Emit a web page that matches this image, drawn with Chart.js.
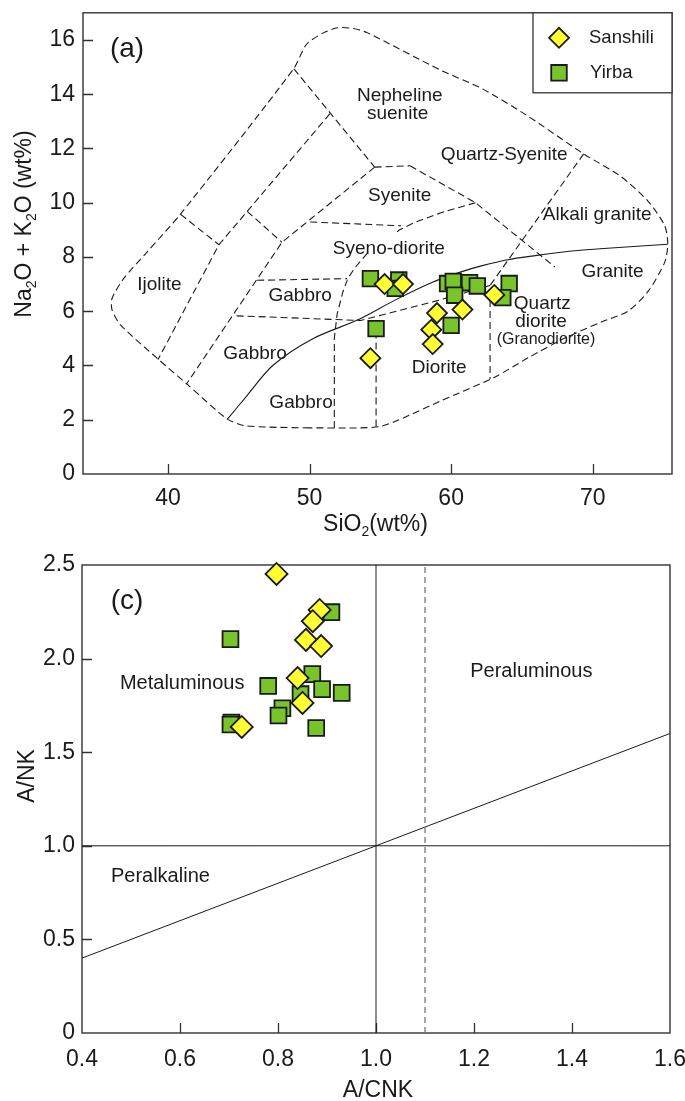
<!DOCTYPE html>
<html>
<head>
<meta charset="utf-8">
<script src="https://cdn.jsdelivr.net/npm/chart.js"></script>
<style>
  html, body { margin: 0; padding: 0; background: #fff; }
  #wrap { position: relative; width: 685px; height: 1101px; }
  #wrap canvas { position: absolute; left: 0; }
</style>
</head>
<body>
<div id="wrap">
  <canvas id="tas" width="685" height="540" style="top:0"></canvas>
  <canvas id="acnk" width="685" height="561" style="top:540px"></canvas>
</div>
<script>
const FONT = '"Liberation Sans", Arial, Helvetica, sans-serif';
const INK = '#1a1a1a';
const YELLOW = '#ffff33';
const GREEN = '#7ac42b';

// ---- (a) TAS diagram ----
const sanshiliTAS = [[55.3,7.0],[56.6,7.0],[59.0,5.93],[60.8,6.06],[58.6,5.32],[58.7,4.79],[54.3,4.27],[63.05,6.6]];
const yirbaTAS = [[54.3,7.2],[56.3,7.15],[56.05,6.84],[59.75,7.02],[60.15,7.1],[61.3,7.05],[61.85,6.93],[60.25,6.59],[64.1,7.02],[63.65,6.5],[60.0,5.48],[54.7,5.36]];
const tasXTicks = [40, 50, 60, 70];
const tasYTicks = [0, 2, 4, 6, 8, 10, 12, 14, 16];

// field boundaries
const tasOuter = [[50,1.7],[46.99,1.73],[45.34,1.79],[44.17,2.03],[41.35,3.31],[39.34,4.22],[36.64,5.5],[36.05,6.05],[36.05,6.47],[36.87,7.2],[38.52,8.18],[40.87,9.57],[48.87,14.93],[49.79,15.84],[50.97,16.26],[52.0,16.45],[53.1,16.42],[54.1,16.26],[59.2,14.9],[62.2,14.2],[65.4,13.2],[69.36,11.8],[71.98,10.97],[73.9,10.06],[75.09,9.15],[75.3,8.48],[75.09,7.81],[73.9,6.72],[72.46,5.99],[70.6,5.6],[68.0,5.0],[65.5,4.3],[63.0,3.55],[59.3,2.7],[56.2,1.97],[55.0,1.75],[53.6,1.7],[50,1.7]];
const tasDashed = [
  [[48.9,14.93],[54.6,11.31]],
  [[54.6,11.31],[57.1,11.36]],
  [[57.1,11.36],[61.72,10.0],[67.33,7.63]],
  [[61.72,10.0],[59.33,9.64],[57.42,9.27],[56.35,9.0],[56.0,8.84]],
  [[50.05,9.29],[56.47,9.15]],
  [[54.6,11.31],[48.05,8.54],[41.3,3.31]],
  [[45.6,9.68],[48.05,8.54]],
  [[51.44,13.28],[43.6,8.45],[39.3,4.22]],
  [[40.9,9.57],[43.6,8.45]],
  [[46.3,7.14],[52.65,7.2]],
  [[44.85,5.83],[53.6,5.66],[59.1,6.4],[62.75,6.95]],
  [[69.36,11.8],[62.75,6.95],[62.75,3.5]],
  [[54.7,5.66],[54.7,1.72]],
  [[51.75,1.7],[51.75,5.0],[51.95,5.9],[52.35,6.7],[52.7,7.2],[53.2,7.6],[53.7,7.9],[54.1,8.15]]
];
const ibLine = [[44.2,2.02],[45.6,2.9],[47.4,4.0],[50.2,4.98],[53.5,5.7],[56.0,6.4],[58.6,7.05],[60.7,7.45],[62.2,7.68],[64.0,7.9],[65.8,8.04],[68.5,8.22],[70.5,8.3],[75.3,8.47]];

const tasFields = [
  ['Nepheline', 56.37, 13.95], ['suenite', 56.22, 13.28], ['Quartz-Syenite', 63.75, 11.76],
  ['Syenite', 56.37, 10.24], ['Alkali granite', 70.32, 9.57], ['Syeno-diorite', 55.6, 8.3],
  ['Ijolite', 39.4, 6.98], ['Gabbro', 49.34, 6.56], ['Granite', 71.4, 7.47],
  ['Quartz', 66.44, 6.29], ['diorite', 66.35, 5.6], ['Gabbro', 46.15, 4.43],
  ['Diorite', 59.16, 3.92], ['Gabbro', 49.4, 2.64]
];
const tasFieldsSmall = [['(Granodiorite)', 66.7, 4.95]];
const tasXTitle = [['SiO'], ['2', 1], ['(wt%)']];
const tasYTitle = [['Na'], ['2', 1], ['O + K'], ['2', 1], ['O (wt%)']];

// ---- (c) A/NK vs A/CNK ----
const sanshiliACNK = [[0.797,2.452],[0.885,2.26],[0.871,2.2],[0.857,2.1],[0.888,2.067],[0.84,1.896],[0.85,1.763],[0.726,1.635]];
const yirbaACNK = [[0.909,2.248],[0.703,2.104],[0.87,1.917],[0.78,1.854],[0.89,1.837],[0.93,1.817],[0.846,1.81],[0.809,1.735],[0.801,1.696],[0.705,1.658],[0.703,1.648],[0.878,1.629]];
const acnkXTicks = [0.4, 0.6, 0.8, 1.0, 1.2, 1.4, 1.6];
const acnkYTicks = [0, 0.5, 1.0, 1.5, 2.0, 2.5];
const acnkSolid = [[[0.4,1.0],[1.6,1.0]], [[1.0,0],[1.0,2.5]], [[0.4,0.4],[1.6,1.6]]];
const acnkDashed = [[1.1,0],[1.1,2.5]];
const acnkFields = [['Metaluminous', 0.6045, 1.869], ['Peraluminous', 1.317, 1.931], ['Peralkaline', 0.56, 0.835]];

function pts(arr) {
  return arr.map(p => ({ x: p[0], y: p[1] }));
}

function lineSet(arr, opts) {
  return Object.assign({
    data: pts(arr), showLine: true, pointRadius: 0, pointHoverRadius: 0,
    borderColor: INK, borderWidth: 1.1, borderDash: [], tension: 0, fill: false, order: 2
  }, opts || {});
}

function markerSet(label, arr, style, r, color) {
  return {
    label: label, data: pts(arr), showLine: false, pointStyle: style,
    pointRadius: r, pointHoverRadius: r, pointBackgroundColor: color,
    pointBorderColor: INK, pointBorderWidth: 1.8, clip: false,
    order: label === 'Sanshili' ? 0 : 1
  };
}

function drawTitle(ctx, parts, size, x, y, vertical) {
  ctx.save();
  ctx.translate(x, y);
  if (vertical) ctx.rotate(-Math.PI / 2);
  ctx.fillStyle = INK;
  ctx.textAlign = 'left';
  ctx.textBaseline = 'alphabetic';
  const sub = Math.round(size * 0.62);
  let w = 0;
  parts.forEach(p => { ctx.font = (p[1] ? sub : size) + 'px ' + FONT; w += ctx.measureText(p[0]).width; });
  let cx = -w / 2;
  parts.forEach(p => {
    ctx.font = (p[1] ? sub : size) + 'px ' + FONT;
    ctx.fillText(p[0], cx, p[1] ? size * 0.22 : 0);
    cx += ctx.measureText(p[0]).width;
  });
  ctx.restore();
}

function innerTicks(ctx, a, x, y, xt, yt) {
  ctx.strokeStyle = '#333';
  ctx.lineWidth = 1.3;
  ctx.beginPath();
  xt.forEach(v => {
    if (v === x.min || v === x.max) return;
    const px = Math.round(x.getPixelForValue(v)) + 0.5;
    ctx.moveTo(px, a.bottom); ctx.lineTo(px, a.bottom - 10);
  });
  yt.forEach(v => {
    if (v === y.min || v === y.max) return;
    const py = Math.round(y.getPixelForValue(v)) + 0.5;
    ctx.moveTo(a.left, py); ctx.lineTo(a.left + 10, py);
  });
  ctx.stroke();
  ctx.lineWidth = 1.4;
  ctx.strokeRect(a.left, a.top, a.right - a.left, a.bottom - a.top);
}

function fieldNames(ctx, x, y, list, size) {
  ctx.fillStyle = INK;
  ctx.textAlign = 'center';
  ctx.textBaseline = 'middle';
  ctx.font = size + 'px ' + FONT;
  list.forEach(f => ctx.fillText(f[0], x.getPixelForValue(f[1]), y.getPixelForValue(f[2])));
}

function drawMarker(ctx, style, r, color, px, py) {
  ctx.fillStyle = color;
  ctx.strokeStyle = INK;
  ctx.lineWidth = 1.8;
  Chart.helpers.drawPoint(ctx, { pointStyle: style, radius: r, rotation: 0, borderWidth: 1.8 }, px, py);
}

const decorTAS = {
  id: 'decorTAS',
  beforeDatasetsDraw(chart) {
    const { ctx, chartArea: a, scales: { x, y } } = chart;
    ctx.save();
    innerTicks(ctx, a, x, y, tasXTicks, tasYTicks);
    fieldNames(ctx, x, y, tasFields, 19);
    fieldNames(ctx, x, y, tasFieldsSmall, 16);
    ctx.font = '28px ' + FONT;
    ctx.fillText('(a)', a.left + 44, a.top + 36);
    drawTitle(ctx, tasXTitle, 23, (a.left + a.right) / 2 - 2, 531, false);
    drawTitle(ctx, tasYTitle, 23, 31, 224, true);
    ctx.restore();
  },
  afterDatasetsDraw(chart) {
    const { ctx, chartArea: a } = chart;
    const ds = chart.data.datasets;
    ctx.save();
    const bx = a.right - 139, by = a.top;
    ctx.fillStyle = '#fff';
    ctx.fillRect(bx, by, 139, 80);
    ctx.strokeStyle = '#333';
    ctx.lineWidth = 1.3;
    ctx.strokeRect(bx, by, 139, 80);
    drawMarker(ctx, ds[0].pointStyle, 10, ds[0].pointBackgroundColor, bx + 26, by + 25);
    drawMarker(ctx, ds[1].pointStyle, 11, ds[1].pointBackgroundColor, bx + 26, by + 60);
    ctx.fillStyle = INK;
    ctx.font = '18.5px ' + FONT;
    ctx.textAlign = 'left';
    ctx.textBaseline = 'middle';
    ctx.fillText(ds[0].label, bx + 56, by + 25);
    ctx.fillText(ds[1].label, bx + 57, by + 60);
    ctx.restore();
  }
};

const decorACNK = {
  id: 'decorACNK',
  beforeDatasetsDraw(chart) {
    const { ctx, chartArea: a, scales: { x, y } } = chart;
    ctx.save();
    innerTicks(ctx, a, x, y, acnkXTicks, acnkYTicks);
    fieldNames(ctx, x, y, acnkFields, 20);
    ctx.font = '28px ' + FONT;
    ctx.fillText('(c)', a.left + 45, a.top + 36);
    drawTitle(ctx, [['A/CNK']], 23, (a.left + a.right) / 2 + 2, 557, false);
    drawTitle(ctx, [['A/NK']], 23, 34, 236, true);
    ctx.restore();
  }
};

function axis(min, max, ticks, fmt, fitH, fitW, pad) {
  return {
    type: 'linear', min: min, max: max,
    grid: { display: false, drawTicks: false }, border: { display: false },
    afterBuildTicks: s => { s.ticks = ticks.map(v => ({ value: v })); },
    afterFit: s => {
      if (fitH) s.height = fitH;
      if (fitW) s.width = fitW;
      s.paddingLeft = 0; s.paddingRight = 0; s.paddingTop = 0; s.paddingBottom = 0;
    },
    ticks: { font: { family: FONT, size: 23 }, color: INK, padding: pad, maxRotation: 0, autoSkip: false, callback: fmt }
  };
}

const tasDatasets = [
  markerSet('Sanshili', sanshiliTAS, 'rectRot', 10, YELLOW),
  markerSet('Yirba', yirbaTAS, 'rect', 11, GREEN),
  lineSet(tasOuter, { borderDash: [7, 4], tension: 0.25 }),
  lineSet(ibLine, { tension: 0.3 })
];
tasDashed.forEach(l => tasDatasets.push(lineSet(l, { borderDash: [7, 4] })));

new Chart(document.getElementById('tas'), {
  type: 'scatter',
  data: { datasets: tasDatasets },
  options: {
    responsive: false, animation: false,
    layout: { padding: { left: 0, right: 13, top: 7, bottom: 0 } },
    plugins: { legend: { display: false }, tooltip: { enabled: false } },
    scales: {
      x: axis(34, 75.6, tasXTicks, v => String(v), 66, 0, 11),
      y: axis(0, 17, tasYTicks, v => String(v), 0, 83, 8)
    }
  },
  plugins: [decorTAS]
});

const acnkDatasets = [
  markerSet('Sanshili', sanshiliACNK, 'rectRot', 11, YELLOW),
  markerSet('Yirba', yirbaACNK, 'rect', 11.2, GREEN),
  lineSet(acnkDashed, { borderDash: [6, 4], borderColor: '#777', borderWidth: 1.3 })
];
acnkSolid.forEach(l => acnkDatasets.push(lineSet(l, { borderWidth: 1 })));

new Chart(document.getElementById('acnk'), {
  type: 'scatter',
  data: { datasets: acnkDatasets },
  options: {
    responsive: false, animation: false,
    layout: { padding: { left: 0, right: 15, top: 25, bottom: 0 } },
    plugins: { legend: { display: false }, tooltip: { enabled: false } },
    scales: {
      x: axis(0.4, 1.6, acnkXTicks, v => v.toFixed(1), 68, 0, 13),
      y: axis(0, 2.5, acnkYTicks, v => (v === 0 ? '0' : v.toFixed(1)), 0, 82, 7)
    }
  },
  plugins: [decorACNK]
});
</script>
</body>
</html>
